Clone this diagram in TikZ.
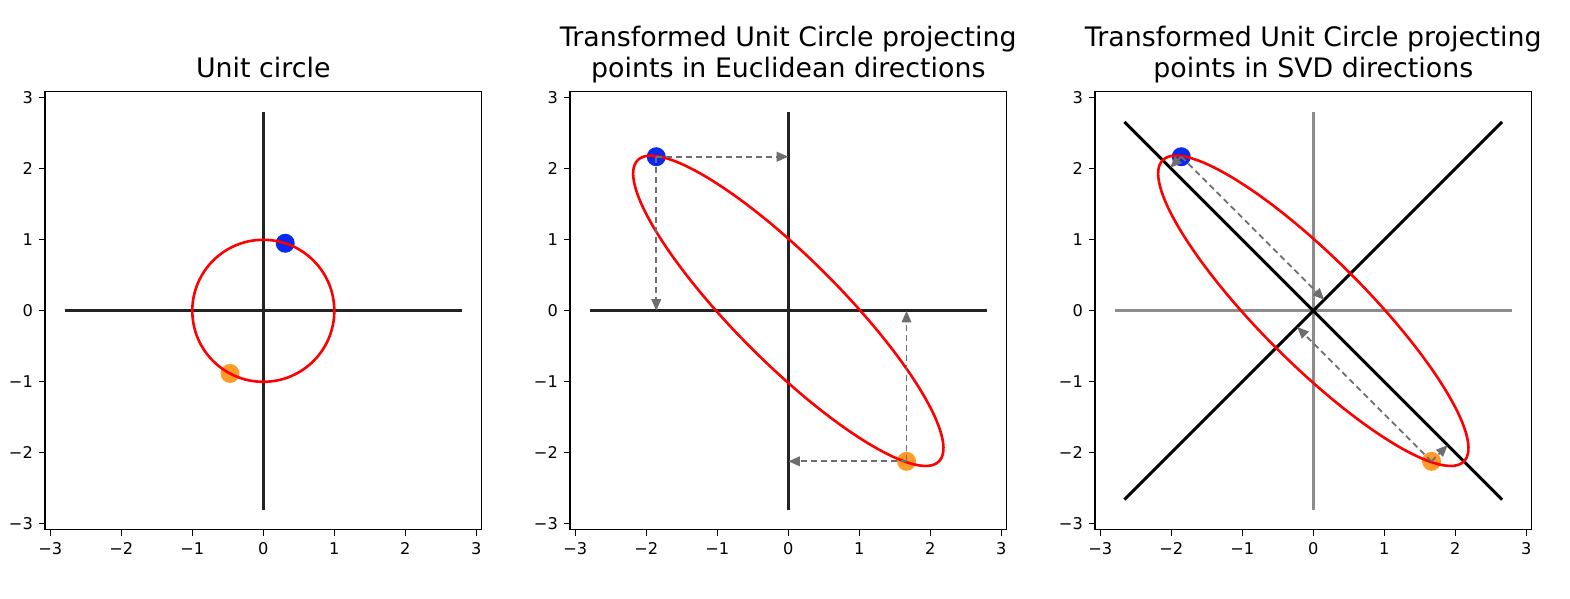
\documentclass[tikz,border=0pt]{standalone}
\usepackage{fontspec}
\setmainfont{DejaVu Sans}
\usetikzlibrary{arrows.meta}

\definecolor{ptblue}{RGB}{10,40,240}
\definecolor{ptorange}{RGB}{255,155,40}
\definecolor{projgray}{RGB}{110,110,110}
\definecolor{axisgray}{RGB}{140,140,140}
\definecolor{axisdark}{RGB}{35,35,35}

\newcommand{\ticktext}[1]{\ifnum#1<0 −\number\numexpr-#1\relax\else#1\fi}

\begin{document}
\begin{tikzpicture}[
  x=0.5pt, y=0.5pt,
  frame/.style={draw=black, line width=0.65pt},
  tickmark/.style={line width=0.65pt},
  ticklabel/.style={inner sep=0pt, font=\fontsize{8.1}{9.7}\selectfont},
  plottitle/.style={inner sep=0pt, align=center, font=\fontsize{13.4}{15.5}\selectfont},
  axisline/.style={draw=axisdark, line width=1.6pt},
  greyaxis/.style={draw=axisgray, line width=1.6pt},
  svdline/.style={draw=black, line width=1.5pt},
  curve/.style={draw=red, line width=1.3pt},
  bluept/.style={circle, fill=ptblue, inner sep=0pt, minimum size=9.5pt},
  orangept/.style={circle, fill=ptorange, inner sep=0pt, minimum size=9.5pt},
  proj/.style={draw=projgray, line width=0.9pt, dash pattern=on 3pt off 2pt,
    -{Triangle[length=5.8pt,width=4.8pt]}}
]
\useasboundingbox (0,0) rectangle (1570,599);

% Frames, ticks and tick labels of the three panels
\foreach \px/\p in {263.3/1, 788.3/2, 1313.3/3} {
  \begin{scope}[shift={(\px,288.2)}, x=35.5pt, y=35.5pt]
    \draw[frame] (-3.075,-3.085) rectangle (3.075,3.085);
    \foreach \t in {-3,...,3} {
      \draw[tickmark] (\t,-3.085) -- ++(0,-2.85pt);
      \draw[tickmark] (-3.075,\t) -- ++(-2.85pt,0);
      \node[ticklabel, anchor=north] (xt\p\t) at (\t,-3.263) {\ticktext{\t}};
      \node[ticklabel, anchor=east] (yt\p\t) at (-3.24,\t) {\ticktext{\t}};
    }
  \end{scope}
}

% Titles (base = last line)
\node[plottitle, anchor=base] (title1) at (263.3,521) {Unit circle};
\node[plottitle, anchor=base] (title2) at (788.3,521) {Transformed Unit Circle projecting\\points in Euclidean directions};
\node[plottitle, anchor=base] (title3) at (1313.3,521) {Transformed Unit Circle projecting\\points in SVD directions};

% Panel 1: unit circle
\begin{scope}[shift={(263.3,288.2)}, x=35.5pt, y=35.5pt]
  \node[bluept] (b1) at (0.309,0.951) {};
  \node[orangept] (o1) at (-0.469,-0.883) {};
  \draw[axisline] (-2.8,0) -- (2.8,0);
  \draw[axisline] (0,-2.8) -- (0,2.8);
  \draw[curve] (0,0) circle [radius=1];
\end{scope}

% Panel 2: projections on the coordinate axes
\begin{scope}[shift={(788.3,288.2)}, x=35.5pt, y=35.5pt]
  \node[bluept] (b2) at (-1.86,2.17) {};
  \node[orangept] (o2) at (1.665,-2.12) {};
  \draw[axisline] (-2.8,0) -- (2.8,0);
  \draw[axisline] (0,-2.8) -- (0,2.8);
  \draw[curve, rotate=-45] (0,0) ellipse [x radius=3.0, y radius=0.74];
  \coordinate (b2x) at (0,2.17);
  \coordinate (b2y) at (-1.86,0);
  \coordinate (o2x) at (0,-2.12);
  \coordinate (o2y) at (1.665,0);
  \draw[proj] (b2.center) -- (b2x);
  \draw[proj] (b2.center) -- (b2y);
  \draw[proj] (o2.center) -- (o2x);
  \draw[proj] (o2.center) -- (o2y);
\end{scope}

% Panel 3: projections on the singular directions
\begin{scope}[shift={(1313.3,288.2)}, x=35.5pt, y=35.5pt]
  \node[bluept] (b3) at (-1.86,2.17) {};
  \node[orangept] (o3) at (1.665,-2.12) {};
  \draw[greyaxis] (-2.8,0) -- (2.8,0);
  \draw[greyaxis] (0,-2.8) -- (0,2.8);
  \draw[svdline] (-2.66,2.66) -- (2.66,-2.66);
  \draw[svdline] (-2.66,-2.66) -- (2.66,2.66);
  \draw[curve, rotate=-45] (0,0) ellipse [x radius=3.0, y radius=0.74];
  \coordinate (b3u) at (-2.015,2.015);
  \coordinate (b3v) at (0.155,0.155);
  \coordinate (o3u) at (1.892,-1.892);
  \coordinate (o3v) at (-0.2275,-0.2275);
  \draw[proj] (b3.center) -- (b3u);
  \draw[proj] (b3.center) -- (b3v);
  \draw[proj] (o3.center) -- (o3u);
  \draw[proj] (o3.center) -- (o3v);
\end{scope}

\end{tikzpicture}
\end{document}
